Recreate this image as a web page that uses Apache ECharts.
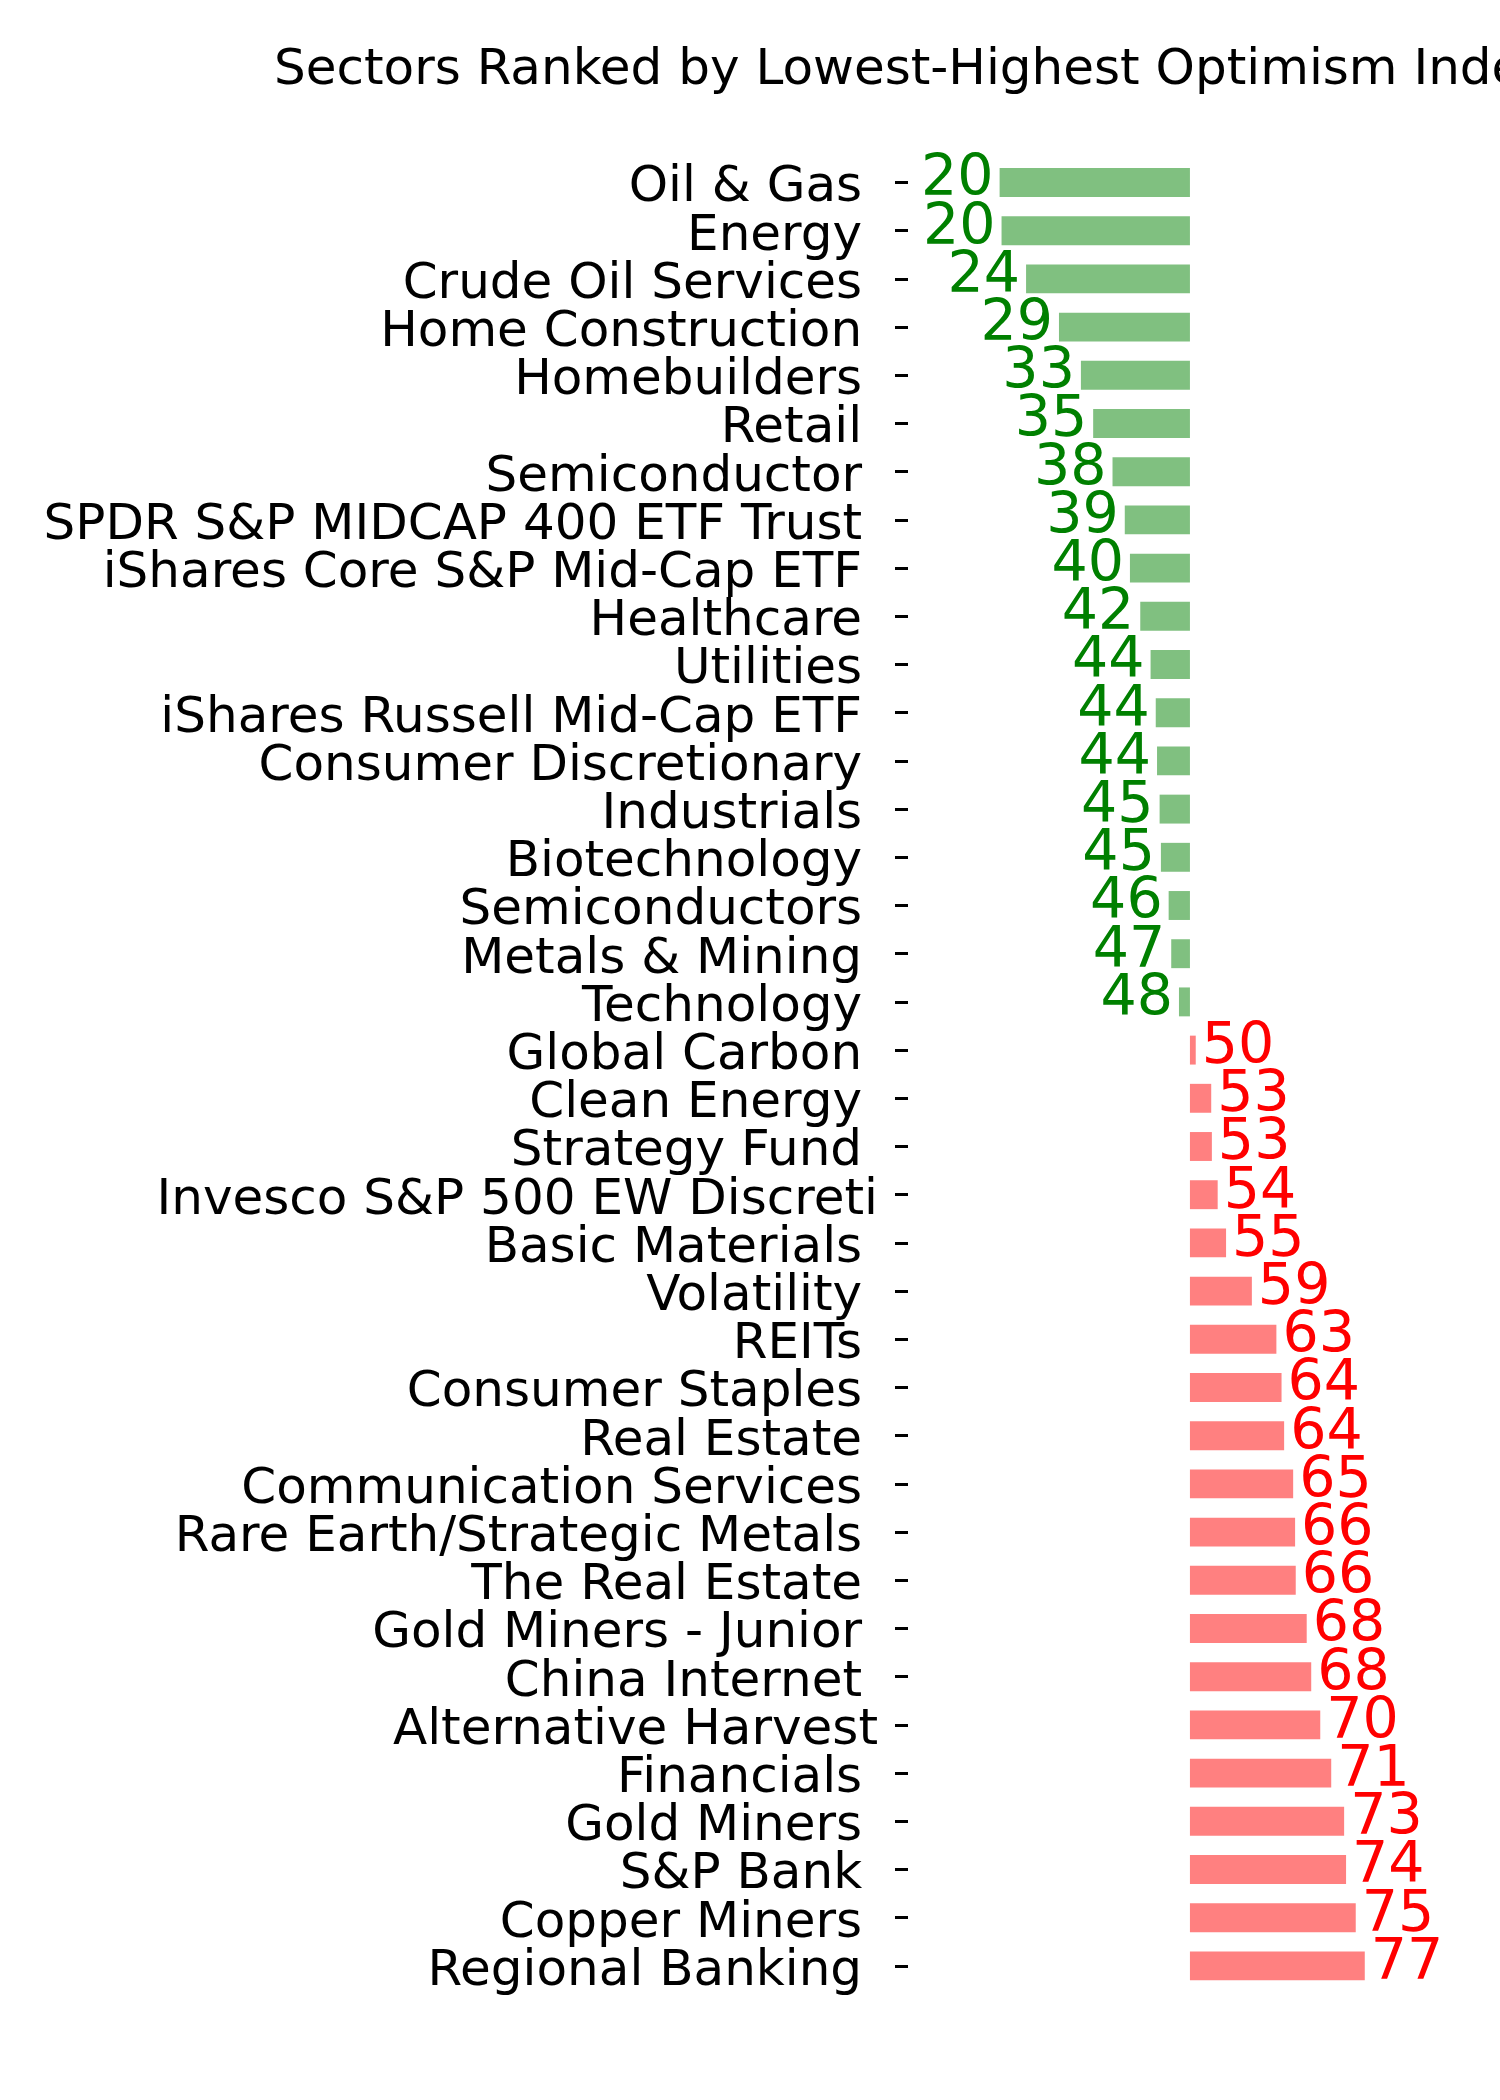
<!DOCTYPE html>
<html>
<head>
<meta charset="utf-8">
<script src="https://cdn.jsdelivr.net/npm/echarts@6/dist/echarts.min.js"></script>
<style>
  html, body { margin: 0; padding: 0; background: #ffffff; }
  #chart { width: 1500px; height: 2100px; }
</style>
</head>
<body>
<div id="chart"></div>
<script>
// ---- data ----
var categories = [
  "Oil & Gas ", "Energy ", "Crude Oil Services ", "Home Construction ", "Homebuilders ",
  "Retail ", "Semiconductor ", "SPDR S&P MIDCAP 400 ETF Trust ", "iShares Core S&P Mid-Cap ETF ",
  "Healthcare ", "Utilities ", "iShares Russell Mid-Cap ETF ", "Consumer Discretionary ",
  "Industrials ", "Biotechnology ", "Semiconductors ", "Metals & Mining ", "Technology ",
  "Global Carbon ", "Clean Energy ", "Strategy Fund ", "Invesco S&P 500 EW Discreti",
  "Basic Materials ", "Volatility ", "REITs ", "Consumer Staples ", "Real Estate ",
  "Communication Services ", "Rare Earth/Strategic Metals ", "The Real Estate ",
  "Gold Miners - Junior ", "China Internet ", "Alternative Harvest", "Financials ",
  "Gold Miners ", "S&P Bank ", "Copper Miners ", "Regional Banking "
];
// bar end values (bars are drawn from the neutral level 50)
var barValues = [
  20.5, 20.8, 24.6, 29.7, 33.1, 35.0, 38.0, 39.9, 40.7, 42.3,
  43.9, 44.7, 44.9, 45.3, 45.5, 46.7, 47.1, 48.3,
  50.9, 53.3, 53.4, 54.3, 55.6, 59.6, 63.4, 64.2, 64.6, 66.0,
  66.3, 66.4, 68.1, 68.8, 70.2, 71.9, 73.9, 74.2, 75.7, 77.1
];
// printed index values
var labelValues = [
  20, 20, 24, 29, 33, 35, 38, 39, 40, 42,
  44, 44, 44, 45, 45, 46, 47, 48,
  50, 53, 53, 54, 55, 59, 63, 64, 64, 65,
  66, 66, 68, 68, 70, 71, 73, 74, 75, 77
];
var BASE = 50;
var titleText = "Sectors Ranked by Lowest-Highest Optimism Index";

var seriesData = barValues.map(function (v, i) { return [v, i]; });

var chart = echarts.init(document.getElementById('chart'), null, { renderer: 'canvas' });
chart.setOption({
  backgroundColor: '#ffffff',
  animation: false,
  title: {
    text: titleText,
    left: 269,
    top: 41,
    textStyle: { fontFamily: 'DejaVu Sans', fontSize: 50, fontWeight: 'normal', color: '#000000' }
  },
  grid: { left: 908, right: 52, top: 158.4, bottom: 110, containLabel: false },
  xAxis: {
    type: 'value', min: 6.3, max: 90, show: false
  },
  yAxis: {
    type: 'category',
    data: categories,
    inverse: true,
    axisLine: { show: false },
    axisTick: { show: true, alignWithLabel: true, interval: 0, length: 13, lineStyle: { color: '#000000', width: 3 } },
    axisLabel: {
      interval: 0, margin: 30,
      formatter: function (v) { return '{a|' + v + '}'; },
      rich: { a: { fontFamily: 'DejaVu Sans', fontSize: 50, color: '#000000', padding: [12, 0, 0, 0] } }
    },
    splitLine: { show: false }
  },
  series: [{
    type: 'custom',
    data: seriesData,
    encode: { x: 0, y: 1 },
    renderItem: function (params, api) {
      var v = api.value(0);
      var idx = api.value(1);
      var p0 = api.coord([BASE, idx]);
      var p1 = api.coord([v, idx]);
      var h = api.size([0, 1])[1] * 0.6;
      var up = v >= BASE;
      var x0 = Math.min(p0[0], p1[0]);
      var w = Math.abs(p1[0] - p0[0]);
      return {
        type: 'group',
        children: [
          { type: 'rect', shape: { x: x0, y: p0[1] - h / 2, width: w, height: h },
            style: { fill: up ? '#ff8080' : '#80c080' } },
          { type: 'text', x: up ? p1[0] + 6 : p1[0] - 6, y: p0[1] - 2,
            style: { text: String(labelValues[params.dataIndex]), fill: up ? '#ff0000' : '#008000',
                     fontFamily: 'DejaVu Sans', fontSize: 57,
                     align: up ? 'left' : 'right', verticalAlign: 'middle' } }
        ]
      };
    }
  }]
});
</script>
</body>
</html>
